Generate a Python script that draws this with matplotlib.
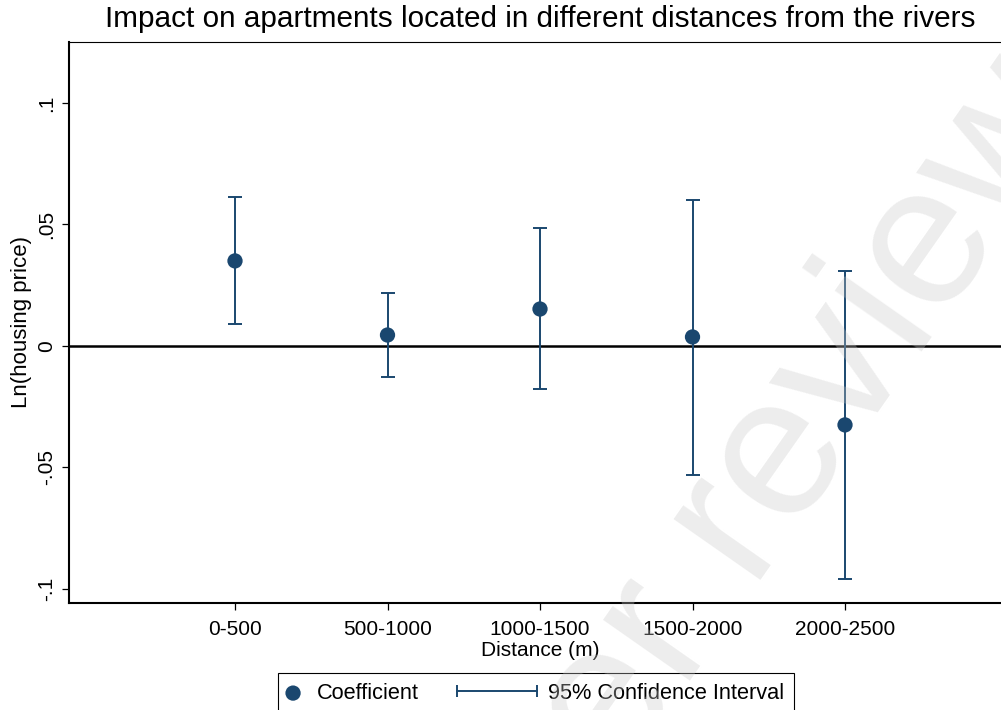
import numpy as np
import matplotlib
matplotlib.use("Agg")
import matplotlib.pyplot as plt
from matplotlib.lines import Line2D
from matplotlib.legend_handler import HandlerBase

plt.rcParams['font.family'] = ['Liberation Sans', 'DejaVu Sans']

# distance bands and estimates
bands = ['0-500', '500-1000', '1000-1500', '1500-2000', '2000-2500']
coef = [0.035, 0.0045, 0.0152, 0.0037, -0.0325]
ci_low = [0.0091, -0.0128, -0.0177, -0.0531, -0.0959]
ci_high = [0.0613, 0.0218, 0.0486, 0.0601, 0.0309]

yticks = [-0.1, -0.05, 0, 0.05, 0.1]
ytick_labels = ['-.1', '-.05', '0', '.05', '.1']

navy = '#1a476f'


class CapLineHandler(HandlerBase):
    # horizontal line with end caps, stretched to the left of its slot
    def __init__(self, extra=2.83, tail=0.36):
        super().__init__()
        self.extra = extra
        self.tail = tail

    def create_artists(self, legend, orig_handle, xdescent, ydescent,
                       width, height, fontsize, trans):
        y = height / 2 - ydescent
        x0 = -xdescent - self.extra * fontsize
        x1 = -xdescent + width + self.tail * fontsize
        line = Line2D([x0, x1], [y, y], color=navy, lw=1.4)
        caps = Line2D([x0, x1], [y, y], ls='none', marker='|', ms=8,
                      mew=1.4, color=navy)
        line.set_transform(trans)
        caps.set_transform(trans)
        return [line, caps]


fig = plt.figure(figsize=(10.01, 7.10), dpi=100)
ax = fig.add_axes([69 / 1001, 1 - 603 / 710, (1011 - 69) / 1001, (603 - 42) / 710])

x = np.arange(1, len(bands) + 1)
yerr = [np.array(coef) - np.array(ci_low), np.array(ci_high) - np.array(coef)]

ax.axhline(0, color='black', lw=1.8, zorder=1)
ax.errorbar(x, coef, yerr=yerr, fmt='none', ecolor=navy, elinewidth=1.4,
            capsize=5, capthick=1.4, zorder=2)
pts = ax.scatter(x, coef, s=11 ** 2, color=navy, zorder=3, label='Coefficient',
                 edgecolors='none')

ax.set_xlim(3 - 471 / 152.5, 3 + 471 / 152.5)
ax.set_ylim(-0.1058, 0.1251)
ax.set_xticks(x, labels=bands, fontsize=15)
ax.set_yticks(yticks, labels=ytick_labels, fontsize=15)
for lab in ax.get_yticklabels():
    lab.set_rotation(90)
    lab.set_va('center')
ax.tick_params(axis='both', length=5, width=0.9, color='black')
ax.tick_params(axis='x', pad=7.5)
ax.tick_params(axis='y', pad=4)

ax.set_xlabel('Distance (m)', fontsize=15, labelpad=1)
ax.set_ylabel('Ln(housing price)', fontsize=16, labelpad=4)
ax.set_title('Impact on apartments located in different distances from the rivers',
             fontsize=21.4, pad=11)

ax.spines['left'].set_linewidth(1.5)
ax.spines['bottom'].set_linewidth(1.5)
ax.spines['top'].set_linewidth(0.8)
ax.spines['right'].set_visible(False)

ci_proxy = Line2D([], [], color=navy)
leg = fig.legend([pts, ci_proxy], ['Coefficient', '95% Confidence Interval'],
                 loc='upper left', bbox_to_anchor=(278 / 1001, 1 - 673 / 710),
                 borderaxespad=0, ncol=2, fontsize=15.7, handlelength=0.48,
                 handletextpad=0.86, columnspacing=4.58, borderpad=0.45,
                 frameon=True, fancybox=False, edgecolor='black', framealpha=1,
                 scatterpoints=1, handler_map={ci_proxy: CapLineHandler()})
leg.get_frame().set_linewidth(0.8)

# diagonal watermark
fig.text(740 / 1001, 1 - 520 / 710, 'Peer review', rotation=55, fontsize=145,
         color='#c8c8c8', alpha=0.33, ha='center', va='center', zorder=10)

fig.savefig('out.png', dpi=100)
